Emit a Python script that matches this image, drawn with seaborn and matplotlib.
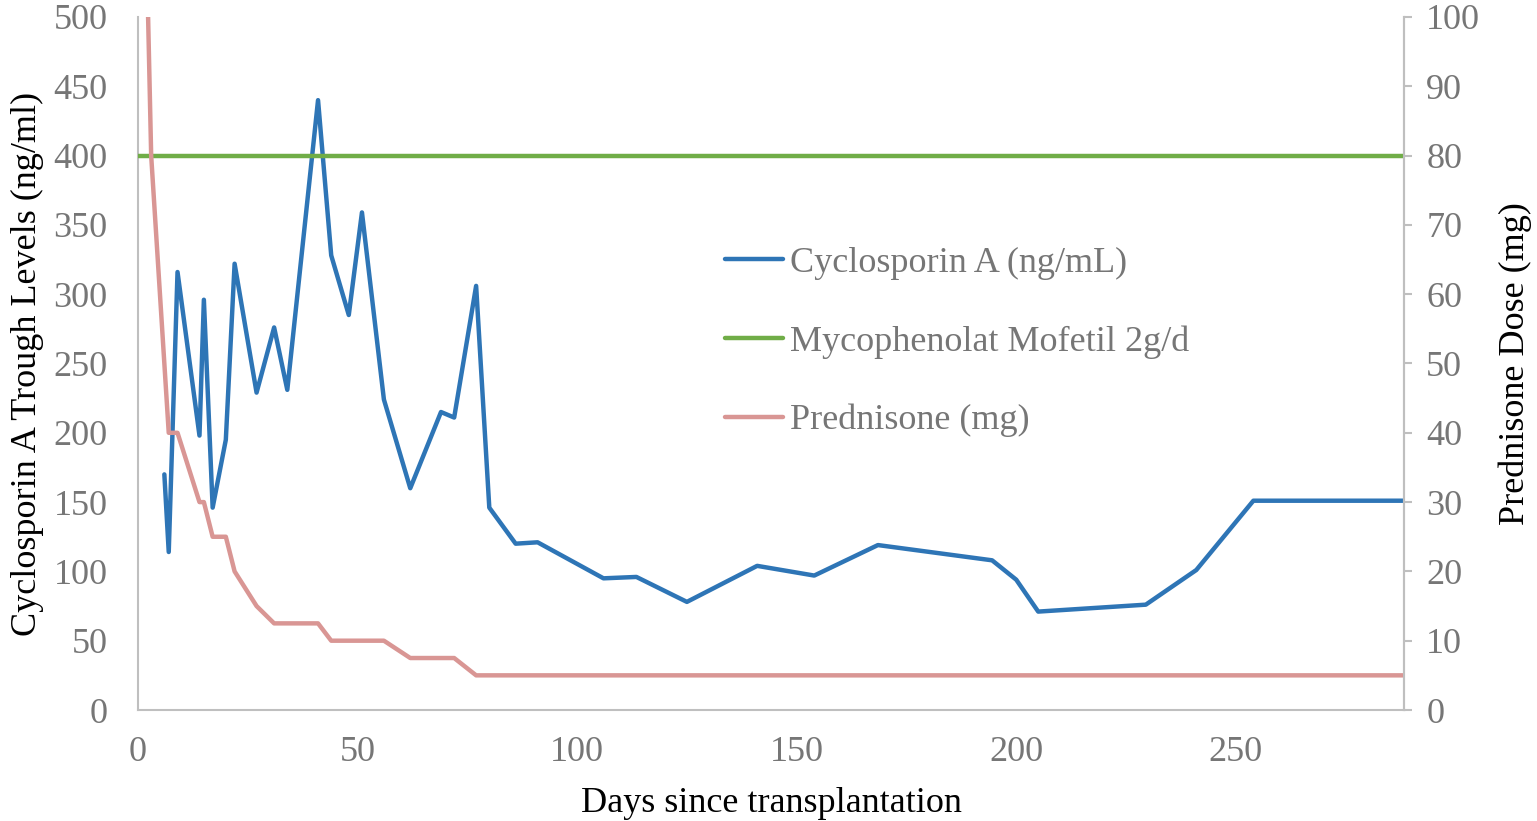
import matplotlib
matplotlib.use('Agg')
import matplotlib.pyplot as plt
import seaborn as sns
import numpy as np
import pandas as pd

# Cyclosporin A trough levels (ng/ml), left axis
csa_day = [6, 7, 9, 14, 15, 17, 20, 22, 27, 31, 34, 41, 44, 48, 51, 56, 62, 69, 72, 77,
           80, 86, 91, 106, 113.5, 125, 141, 154, 168.5, 194.5, 200, 205, 229.5, 241, 254, 288]
csa_level = [170, 114, 316, 198, 296, 146, 195, 322, 229, 276, 231, 440, 328, 285, 359, 224,
             160, 215, 211, 306, 146, 120, 121, 95, 96, 78, 104, 97, 119, 108, 94, 71, 76, 101, 151, 151]

# Prednisone dose (mg), right axis
pred_day = [2.3, 3, 4, 5.5, 7, 9, 14, 15, 17, 20, 22, 27, 31, 41, 44, 56, 62, 72, 77, 288]
pred_dose = [100, 80, 70, 55, 40, 40, 30, 30, 25, 25, 20, 15, 12.5, 12.5, 10, 10, 7.5, 7.5, 5, 5]

# Mycophenolat Mofetil 2g/d (constant, drawn at 80 on right axis)
mmf_day = [0, 288]
mmf_level = [80, 80]

blue = '#2E75B6'
green = '#70AD47'
pink = '#D99694'
grey_txt = '#767676'
spine_c = '#BFBFBF'

sns.set_style('white')
plt.rcParams['font.family'] = ['Liberation Serif', 'DejaVu Serif']

fig = plt.figure(figsize=(15.37, 8.21), dpi=100)
ax = fig.add_axes([138 / 1537, 1 - 710 / 821, (1404 - 138) / 1537, (710 - 17) / 821])
ax2 = ax.twinx()

sns.lineplot(x=csa_day, y=csa_level, ax=ax, color=blue, linewidth=3.2,
             estimator=None, sort=False)
sns.lineplot(x=mmf_day, y=mmf_level, ax=ax2, color=green, linewidth=3.2,
             estimator=None, sort=False)
sns.lineplot(x=pred_day, y=pred_dose, ax=ax2, color=pink, linewidth=3.2,
             estimator=None, sort=False)

ax.set_xlim(0, 288.3)
ax.set_ylim(0, 500)
ax2.set_ylim(0, 100)
ax.set_xticks([0, 50, 100, 150, 200, 250])
ax.set_yticks(np.arange(0, 501, 50))
ax2.set_yticks(np.arange(0, 101, 10))

for a in (ax, ax2):
    for s in a.spines.values():
        s.set_color(spine_c)
        s.set_linewidth(1.5)
    a.spines['top'].set_visible(False)
ax2.spines['left'].set_visible(False)
ax2.spines['bottom'].set_visible(False)

ax.tick_params(axis='both', length=0, labelsize=26, labelcolor=grey_txt)
ax.tick_params(axis='y', pad=22)
ax.tick_params(axis='x', pad=19)
ax2.tick_params(axis='y', length=6, width=1.5, color=spine_c, direction='out',
                labelsize=26, labelcolor=grey_txt, pad=10)

ax.set_xlabel('Days since transplantation', fontsize=26, color='black', labelpad=13)
ax.set_ylabel('Cyclosporin A Trough Levels (ng/ml)', fontsize=26, color='black', labelpad=7)
ax2.set_ylabel('Prednisone Dose (mg)', fontsize=26, color='black', labelpad=13)

handles = [ax.lines[0], ax2.lines[0], ax2.lines[1]]
labels = ['Cyclosporin A (ng/mL)', 'Mycophenolat Mofetil 2g/d', 'Prednisone (mg)']
leg = fig.legend(handles, labels, loc='center left', bbox_to_anchor=(725 / 1537, 1 - 342 / 821),
                 frameon=False, fontsize=26, labelcolor=grey_txt, handlelength=1.6,
                 handletextpad=0.2, labelspacing=1.25, borderpad=0, borderaxespad=0)

fig.savefig('out.png', dpi=100)
